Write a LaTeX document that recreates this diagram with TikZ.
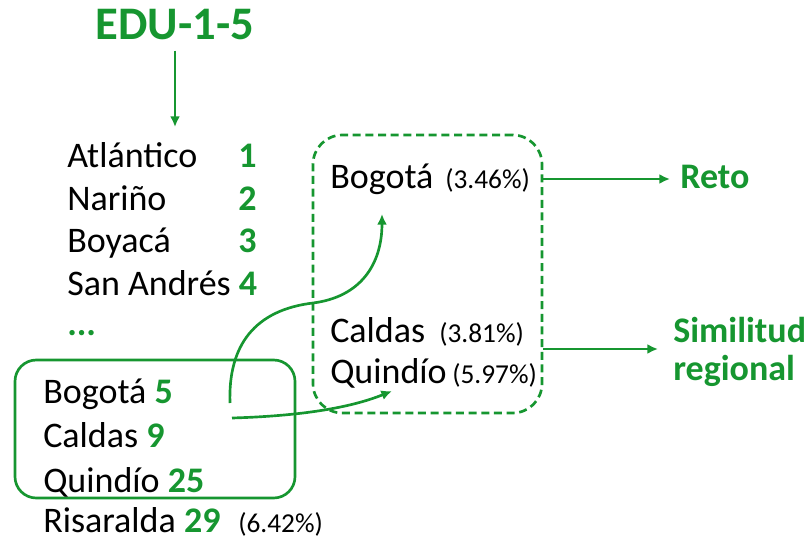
\documentclass[tikz,border=0pt]{standalone}
\usepackage{fontspec}
\setmainfont{Carlito}
\usetikzlibrary{%
    arrows.meta,%
    calc,%
    positioning%
}
\definecolor{verde}{RGB}{22,150,48}
\tikzset{
    txt/.style={anchor=base west, inner sep=0pt, font=\fontsize{27}{32}\selectfont},
    num/.style={txt, text=verde, font=\fontsize{27}{32}\selectfont\bfseries},
    pct/.style={anchor=base west, inner sep=0pt, font=\fontsize{20.5}{24}\selectfont},
    flecha/.style={verde, line width=2pt, -{Latex[length=8pt,width=7.5pt]}},
    caja/.style={draw=verde, line width=2pt, inner sep=0pt},
}

\begin{document}
\begin{tikzpicture}[x=0.75pt,y=-0.75pt]
\useasboundingbox (0,0) rectangle (808,539);

\node[anchor=base, inner sep=0pt, text=verde, font=\fontsize{35}{42}\selectfont\bfseries] (edu) at (175,40) {EDU-1-5};
\coordinate (lista) at (175,127);
\draw[flecha] ([yshift=-7.5pt]edu.south) -- (lista);

% ranking
\node[txt] (atl) at (67,167) {Atlántico};
\node[num] (n1) at (238,167) {1};
\node[txt] (nar) at (67,210) {Nariño};
\node[num] (n2) at (238,210) {2};
\node[txt] (boy) at (67,252) {Boyacá};
\node[num] (n3) at (238,252) {3};
\node[txt] (san) at (67,295) {San Andrés \textcolor{verde}{\bfseries 4}};
\node[num] (dots) at (67,335) {...};

% grupo
\node[caja, rounded corners=16pt, minimum width=210pt, minimum height=103.5pt] (grupo) at (155,429) {};
\node[txt] (bog) at (43,403) {Bogotá \textcolor{verde}{\bfseries 5}};
\node[txt] (cal) at (43,447) {Caldas \textcolor{verde}{\bfseries 9}};
\node[txt] (qui) at (43,492) {Quindío \textcolor{verde}{\bfseries 25}};
\node[txt] (ris) at (43,532) {Risaralda \textcolor{verde}{\bfseries 29}};
\node[pct] (pris) at (238,532) {(6.42\%)};

% referentes
\node[caja, dashed, dash pattern=on 6pt off 3.5pt, rounded corners=22pt, minimum width=171.75pt, minimum height=208.5pt] (ref) at (427.5,274) {};
\node[txt] (bogR) at (330,188) {Bogotá};
\node[pct] (pbog) at (445,188) {(3.46\%)};
\node[txt] (calR) at (330,342) {Caldas};
\node[pct] (pcal) at (439,342) {(3.81\%)};
\node[txt] (quiR) at (330,383) {Quindío};
\node[pct] (pqui) at (452,383) {(5.97\%)};

\coordinate (src1) at (230,403);
\coordinate (dst1) at (382,214);
\draw[flecha] (src1) .. controls (228,345) and (255,310) .. (313,303)
    .. controls (360,297) and (382,265) .. (dst1);
\coordinate (src2) at (232,418);
\coordinate (dst2) at (392,391);
\draw[flecha] (src2) .. controls (300,416) and (350,408) .. (dst2);

% salidas
\node[num] (reto) at (680,188) {Reto};
\node[num] (simil) at (673,342) {Similitud};
\node[num] (regio) at (673,380) {regional};
\coordinate (retotip) at (670,179);
\coordinate (simtip) at (658,349);
\draw[flecha] (ref.east |- retotip) -- (retotip);
\draw[flecha] (ref.east |- simtip) -- (simtip);
\end{tikzpicture}
\end{document}
